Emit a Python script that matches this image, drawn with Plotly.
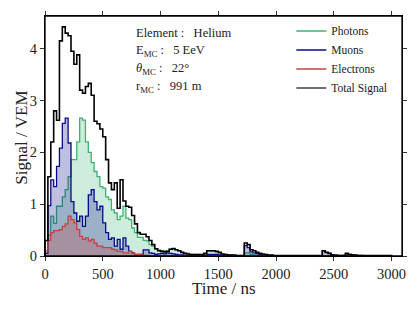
import plotly.graph_objects as go

BIN_WIDTH = 25  # ns

photons = [0.05, 0.40, 0.77, 0.63, 0.96, 0.96, 1.14, 1.28, 1.53, 1.86,
           1.86, 2.20, 2.66, 2.62, 2.20, 2.00, 1.80, 1.63, 1.53, 1.34,
           1.31, 1.14, 1.09, 0.89, 0.83, 0.70, 0.77, 0.96, 0.73, 0.70,
           0.54, 0.45, 0.36, 0.36, 0.30, 0.29, 0.22, 0.19, 0.14, 0.12,
           0.10, 0.10, 0.09, 0.13, 0.15, 0.12, 0.10, 0.07, 0.05, 0.05,
           0.03, 0.03, 0.03, 0.03, 0.03, 0.04, 0.09, 0.09, 0.09, 0.08,
           0.06, 0.04, 0.03, 0.02, 0.02, 0.01, 0.01, 0.01, 0.00, 0.06,
           0.06, 0.03, 0.02, 0.02, 0.01, 0.01, 0.01, 0.00, 0.00, 0.00,
           0.00, 0.00, 0.00, 0.00, 0.00, 0.00, 0.00, 0.00, 0.00, 0.00,
           0.00, 0.00, 0.00, 0.00, 0.00, 0.00, 0.00, 0.00, 0.00, 0.00,
           0.00, 0.00, 0.00, 0.00, 0.00, 0.00, 0.00, 0.00, 0.00, 0.00,
           0.00, 0.00, 0.00, 0.00, 0.00, 0.00, 0.00, 0.00, 0.00, 0.00]

muons = [0.05, 0.97, 1.47, 1.34, 1.73, 2.08, 2.56, 2.66, 2.18, 1.05,
         0.83, 0.67, 0.77, 0.57, 0.77, 1.18, 1.28, 1.05, 0.89, 0.96,
         0.64, 0.45, 0.32, 0.35, 0.19, 0.32, 0.13, 0.35, 0.19, 0.09,
         0.06, 0.02, 0.03, 0.03, 0.12, 0.12, 0.06, 0.05, 0.03, 0.04,
         0.05, 0.04, 0.06, 0.05, 0.04, 0.03, 0.02, 0.02, 0.01, 0.01,
         0.01, 0.01, 0.01, 0.01, 0.01, 0.01, 0.03, 0.03, 0.03, 0.03,
         0.02, 0.01, 0.01, 0.01, 0.01, 0.01, 0.00, 0.00, 0.00, 0.20,
         0.16, 0.08, 0.06, 0.05, 0.03, 0.02, 0.01, 0.01, 0.01, 0.00,
         0.00, 0.00, 0.00, 0.00, 0.00, 0.00, 0.00, 0.00, 0.00, 0.00,
         0.00, 0.00, 0.00, 0.00, 0.00, 0.00, 0.10, 0.07, 0.05, 0.02,
         0.01, 0.01, 0.01, 0.01, 0.04, 0.03, 0.02, 0.01, 0.01, 0.01,
         0.00, 0.00, 0.00, 0.00, 0.00, 0.00, 0.00, 0.00, 0.00, 0.00]

electrons = [0.10, 0.30, 0.45, 0.49, 0.49, 0.51, 0.57, 0.62, 0.77, 0.70,
             0.64, 0.51, 0.38, 0.32, 0.35, 0.29, 0.32, 0.25, 0.19, 0.19,
             0.16, 0.16, 0.16, 0.13, 0.12, 0.09, 0.09, 0.06, 0.06, 0.09,
             0.06, 0.03, 0.03, 0.02, 0.01, 0.01, 0.00, 0.00, 0.00, 0.00,
             0.00, 0.00, 0.00, 0.00, 0.00, 0.00, 0.00, 0.00, 0.00, 0.00,
             0.00, 0.00, 0.00, 0.00, 0.00, 0.00, 0.00, 0.00, 0.00, 0.00,
             0.00, 0.00, 0.00, 0.00, 0.00, 0.00, 0.00, 0.00, 0.00, 0.00,
             0.00, 0.00, 0.00, 0.00, 0.00, 0.00, 0.00, 0.00, 0.00, 0.00,
             0.00, 0.00, 0.00, 0.00, 0.00, 0.00, 0.00, 0.00, 0.00, 0.00,
             0.00, 0.00, 0.00, 0.00, 0.00, 0.00, 0.00, 0.00, 0.00, 0.00,
             0.00, 0.00, 0.00, 0.00, 0.00, 0.00, 0.00, 0.00, 0.00, 0.00,
             0.00, 0.00, 0.00, 0.00, 0.00, 0.00, 0.00, 0.00, 0.00, 0.00]

total = [0.30, 1.53, 2.20, 2.80, 2.62, 4.15, 4.42, 4.30, 4.25, 3.95,
         3.70, 3.88, 3.20, 3.14, 3.27, 3.33, 3.10, 2.60, 2.55, 2.45,
         2.30, 1.86, 1.41, 1.28, 1.41, 0.92, 1.47, 1.06, 0.96, 0.94,
         0.78, 0.62, 0.45, 0.42, 0.42, 0.37, 0.30, 0.22, 0.14, 0.10,
         0.09, 0.08, 0.09, 0.13, 0.14, 0.12, 0.10, 0.07, 0.05, 0.04,
         0.03, 0.03, 0.03, 0.03, 0.03, 0.05, 0.10, 0.10, 0.10, 0.09,
         0.07, 0.04, 0.03, 0.02, 0.02, 0.02, 0.01, 0.01, 0.01, 0.25,
         0.22, 0.12, 0.10, 0.07, 0.05, 0.04, 0.03, 0.02, 0.02, 0.01,
         0.01, 0.01, 0.01, 0.01, 0.01, 0.01, 0.01, 0.01, 0.01, 0.01,
         0.01, 0.01, 0.01, 0.01, 0.01, 0.01, 0.10, 0.07, 0.05, 0.02,
         0.02, 0.01, 0.01, 0.01, 0.05, 0.03, 0.02, 0.02, 0.01, 0.01,
         0.01, 0.01, 0.01, 0.01, 0.01, 0.01, 0.01, 0.01, 0.01, 0.01]

info_lines = ["Element :\u00a0\u00a0 Helium",
              "E<sub>MC</sub> :\u00a0\u00a0 5 EeV",
              "<i>θ</i><sub>MC</sub> :\u00a0\u00a0 22°",
              "r<sub>MC</sub> :\u00a0\u00a0 991 m"]

X_TITLE = "Time / ns"
Y_TITLE = "Signal / VEM"

FONT = "Liberation Serif"


def step_xy(vals):
    n = len(vals)
    edges = [i * BIN_WIDTH for i in range(n + 1)]
    xs = [edges[0]] + edges[:n] + [edges[n], edges[n]]
    ys = [0] + list(vals) + [vals[-1], 0]
    return xs, ys


series = [
    ("Photons", photons, "#3cb371", "rgba(60,179,113,0.25)", 1.3),
    ("Muons", muons, "#0a0a8c", "rgba(0,0,139,0.25)", 1.3),
    ("Electrons", electrons, "#c44040", "rgba(196,64,64,0.28)", 1.3),
    ("Total Signal", total, "black", None, 1.6),
]

fig = go.Figure()
for name, vals, col, fillcol, w in series:
    xs, ys = step_xy(vals)
    kw = dict(fill="tozeroy", fillcolor=fillcol) if fillcol else {}
    fig.add_trace(go.Scatter(x=xs, y=ys, mode="lines", line=dict(color=col, width=w, shape="hv"),
                             showlegend=False, hoverinfo="skip", **kw))
for name, vals, col, fillcol, w in series:
    lc = "#707070" if name == "Total Signal" else col
    fig.add_trace(go.Scatter(x=[None], y=[None], mode="lines", name=name,
                             line=dict(color=lc, width=2.2 if name == "Total Signal" else 1.3)))

for i, txt in enumerate(info_lines):
    fig.add_annotation(x=0.25, y=0.928 - i * 0.0745, xref="paper", yref="paper",
                       text=txt, showarrow=False, xanchor="left", yanchor="middle",
                       font=dict(family=FONT, size=12.5, color="#222"))

fig.add_annotation(x=0.5, y=-0.137, xref="paper", yref="paper", text=X_TITLE,
                   showarrow=False, xanchor="center", yanchor="middle",
                   font=dict(family=FONT, size=17, color="#222"))
fig.add_annotation(x=-0.066, y=0.495, xref="paper", yref="paper", text=Y_TITLE,
                   showarrow=False, xanchor="center", yanchor="middle", textangle=-90,
                   font=dict(family=FONT, size=17, color="#222"))

fig.update_layout(
    width=418, height=313,
    margin=dict(l=45, r=16, t=16, b=57),
    paper_bgcolor="white", plot_bgcolor="white",
    font=dict(family=FONT, color="#222"),
    legend=dict(x=0.69, y=0.998, xanchor="left", yanchor="top", bgcolor="rgba(0,0,0,0)",
                font=dict(family=FONT, size=11.5), tracegroupgap=0, itemwidth=30),
    shapes=[dict(type="rect", xref="paper", yref="paper", x0=0, y0=0, x1=1, y1=1,
                 line=dict(color="black", width=1.3), fillcolor="rgba(0,0,0,0)", layer="above")],
    xaxis=dict(range=[0, 3090], showline=True, mirror="all", linecolor="black", linewidth=1.2,
               ticks="outside", ticklen=4, tickcolor="#333", showgrid=False, zeroline=False,
               automargin=False,
               tickvals=[0, 500, 1000, 1500, 2000, 2500, 3000],
               tickfont=dict(family=FONT, size=14.5)),
    yaxis=dict(range=[0, 4.63], showline=True, mirror="all", linecolor="black", linewidth=1.2,
               ticks="outside", ticklen=4, tickcolor="#333", showgrid=False, zeroline=False,
               automargin=False,
               tickvals=[0, 1, 2, 3, 4],
               tickfont=dict(family=FONT, size=14.5)),
)

fig.write_html("out.html", config={"displayModeBar": False},
               post_script="document.body.style.margin='0';document.body.style.padding='0';")
